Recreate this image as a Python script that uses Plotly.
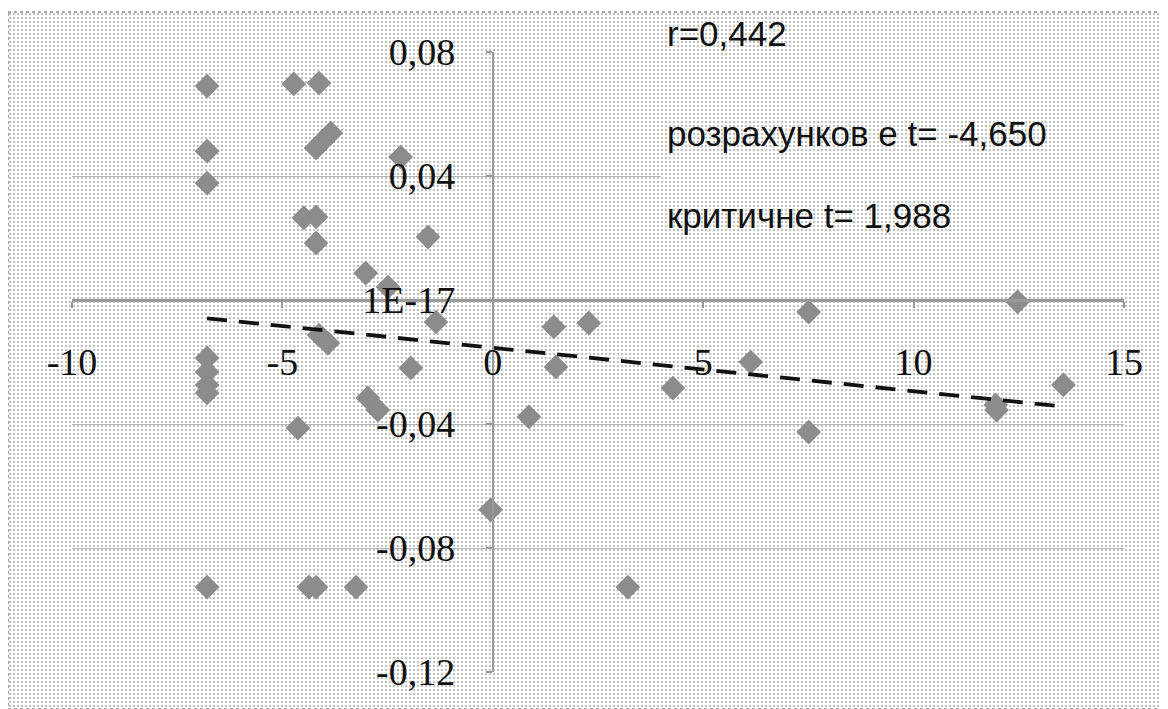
import plotly.graph_objects as go

# ---------------- data ----------------
x_vals = [-6.79, -6.79, -6.79, -6.79, -6.79, -6.79, -6.79, -6.79,
          -4.73, -4.13, -4.20, -4.04, -3.85, -4.49, -4.20, -4.20,
          -2.19, -1.54, -3.02, -2.49, -1.35, -4.13, -3.92, -1.95,
          -2.97, -2.73, -4.63, -4.37, -4.20, -3.25, -0.05,
          1.45, 2.28, 1.50, 4.28, 0.86, 3.21,
          7.51, 12.47, 6.13, 13.56, 11.95, 11.97, 7.51]
y_vals = [0.0690, 0.0480, 0.0377, -0.0187, -0.0232, -0.0274, -0.0300, -0.0926,
          0.0697, 0.0700, 0.0490, 0.0513, 0.0539, 0.0265, 0.0268, 0.0184,
          0.0461, 0.0203, 0.0087, 0.0042, -0.0071, -0.0113, -0.0139, -0.0219,
          -0.0316, -0.0355, -0.0413, -0.0926, -0.0926, -0.0926, -0.0677,
          -0.0087, -0.0074, -0.0216, -0.0284, -0.0377, -0.0926,
          -0.0039, -0.0006, -0.0200, -0.0274, -0.0339, -0.0355, -0.0426]

trend_x = [-6.79, 13.56]
trend_y = [-0.0059, -0.0344]

x_ticks = [-10, -5, 0, 5, 10, 15]
x_tick_labels = ["-10", "-5", "0", "5", "10", "15"]
y_ticks = [0.08, 0.04, 0.0, -0.04, -0.08, -0.12]
y_tick_labels = ["0,08", "0,04", "1E-17", "-0,04", "-0,08", "-0,12"]

stat_lines = ["r=0,442", "розрахунков е t= -4,650", "критичне t= 1,988"]

x_range = [-10, 15]
y_range = [-0.12, 0.08]

# ---------------- layout geometry ----------------
OFF = 8                      # page body margin of the exported html
W, H = 1168 - OFF, 709 - OFF
plot_left, plot_right = 72 - OFF, 1124 - OFF
plot_top, plot_bottom = 52 - OFF, 672 - OFF
dom_x = [plot_left / W, plot_right / W]
dom_y = [1 - plot_bottom / H, 1 - plot_top / H]
yaxis_pos = dom_x[0] + (0 - x_range[0]) / (x_range[1] - x_range[0]) * (dom_x[1] - dom_x[0])
xaxis_pos = dom_y[0] + (0 - y_range[0]) / (y_range[1] - y_range[0]) * (dom_y[1] - dom_y[0])

pattern = dict(shape=".", size=4, solidity=0.09, fgcolor="#555555",
               bgcolor="white", fgopacity=1)

fig = go.Figure()

# dotted chart-area background (full figure subplot, pixel units)
bg_top = H - (12 - OFF)
bg_right = 1164 - OFF
fig.add_trace(go.Scatter(
    x=[0, bg_right, bg_right, 0, 0], y=[bg_top, bg_top, 0, 0, bg_top],
    mode="lines", fill="toself", fillpattern=pattern,
    line=dict(color="#8a8a8a", width=1.5, dash="dot"),
    hoverinfo="skip", showlegend=False, xaxis="x", yaxis="y"))

# text-box background covering gridlines behind the statistics text
fig.add_trace(go.Scatter(
    x=[3.99, 15.5, 15.5, 3.99, 3.99], y=[0.09, 0.09, 0.02, 0.02, 0.09],
    mode="lines", fill="toself", fillpattern=pattern,
    line=dict(width=0, color="rgba(0,0,0,0)"),
    hoverinfo="skip", showlegend=False, xaxis="x2", yaxis="y2"))

# scatter points
fig.add_trace(go.Scatter(
    x=x_vals, y=y_vals, mode="markers",
    marker=dict(symbol="diamond", size=19, color="#8c8c8c",
                line=dict(width=0)),
    showlegend=False, xaxis="x2", yaxis="y2"))

# trend line
fig.add_trace(go.Scatter(
    x=trend_x, y=trend_y, mode="lines",
    line=dict(color="#111111", width=3.8, dash="20px,12px"),
    showlegend=False, xaxis="x2", yaxis="y2"))

serif = "Liberation Serif"

annot_y_px = [34, 133, 215]
annotations = [
    dict(text=txt, x=(665 - OFF) / W, y=1 - (yp - OFF) / H,
         xref="paper", yref="paper",
         xanchor="left", yanchor="middle", showarrow=False,
         font=dict(family="Liberation Sans", size=35, color="#111111"))
    for txt, yp in zip(stat_lines, annot_y_px)
]

fig.update_layout(
    template="none",
    width=W, height=H, autosize=False,
    margin=dict(l=0, r=0, t=0, b=0, pad=0),
    paper_bgcolor="white", plot_bgcolor="rgba(0,0,0,0)",
    xaxis=dict(domain=[0, 1], range=[0, W], visible=False, fixedrange=True,
               automargin=False),
    yaxis=dict(domain=[0, 1], range=[0, H], visible=False, fixedrange=True,
               automargin=False),
    xaxis2=dict(domain=dom_x, range=x_range, anchor="free", position=xaxis_pos,
                automargin=False,
                showline=True, linecolor="#9a9a9a", linewidth=2.5,
                ticks="outside", ticklen=6, tickcolor="#9a9a9a", tickwidth=1.5,
                tickvals=x_ticks, ticktext=x_tick_labels,
                tickfont=dict(family=serif, size=38, color="#111111"),
                ticklabelstandoff=22,
                showgrid=False, zeroline=False),
    yaxis2=dict(domain=dom_y, range=y_range, anchor="free", position=yaxis_pos,
                automargin=False,
                showline=True, linecolor="#9a9a9a", linewidth=2,
                ticks="outside", ticklen=6, tickcolor="#9a9a9a", tickwidth=1.5,
                tickvals=y_ticks, ticktext=y_tick_labels,
                tickfont=dict(family=serif, size=38, color="#111111"),
                ticklabelstandoff=23,
                showgrid=True, gridcolor="#b4b4b4", gridwidth=1,
                zeroline=False),
    annotations=annotations,
)

fig.write_html("out.html")
